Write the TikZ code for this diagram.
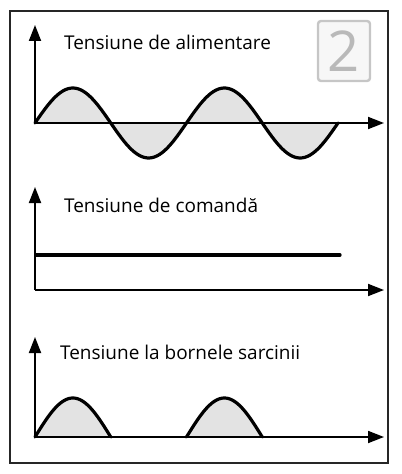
\documentclass[tikz,border=0pt]{standalone}
\usepackage{fontspec}
\setmainfont{Open Sans}
\usetikzlibrary{arrows.meta}

\begin{document}
\begin{tikzpicture}[
  x=0.5mm, y=-0.5mm,
  frm/.style={line width=1.1mm, draw=black!85},
  ax/.style={line width=0.9mm, -{Triangle[length=8mm, width=6mm]}},
  wave/.style={line width=1.6mm, line join=round, line cap=round},
  area/.style={fill=gray!22},
  lbl/.style={anchor=west, font=\fontsize{27}{31}\selectfont, inner sep=0pt},
  nrbox/.style={draw=gray!45, line width=1.2mm, rounded corners=1.5mm, fill=gray!6,
    minimum width=26mm, minimum height=30mm, text=gray!55,
    font=\fontsize{80}{84}\selectfont},
]
\useasboundingbox (0,0) rectangle (401,474);

%% ─── frame and figure number ────────────────────────────────────────────────
\draw[frm] (10,11) rectangle (388,463);
\node[nrbox] (nr) at (344,51) {2};

%% ─── panel 1: supply voltage, y-axis at x=35, t-axis at y=123 ──────────────
\coordinate (o1) at (35,123);
\coordinate (y1) at (35,25);
\coordinate (t1) at (384,123);
\node[lbl] (l1) at (64,42) {Tensiune de alimentare};
\fill[area] plot[domain=35:338, samples=120] (\x, {123-35*sin((\x-35)/151.5*360)}) -- cycle;
\draw[ax] (o1) -- (y1);
\draw[ax] (o1) -- (t1);
\draw[wave] plot[domain=35:338, samples=120] (\x, {123-35*sin((\x-35)/151.5*360)});

%% ─── panel 2: control voltage, t-axis at y=290 ──────────────────────────────
\coordinate (o2) at (35,290);
\coordinate (y2) at (35,187);
\coordinate (t2) at (384,290);
\coordinate (c2a) at (36,255);
\coordinate (c2b) at (340,255);
\node[lbl] (l2) at (64,205) {Tensiune de comandă};
\draw[ax] (o2) -- (y2);
\draw[ax] (o2) -- (t2);
\draw[wave] (c2a) -- (c2b);

%% ─── panel 3: load voltage, t-axis at y=437 ─────────────────────────────────
\coordinate (o3) at (35,437);
\coordinate (y3) at (35,337);
\coordinate (t3) at (384,437);
\node[lbl] (l3) at (60,352) {Tensiune la bornele sarcinii};
\foreach \s in {35,186.5}{
  \fill[area] plot[domain=\s:\s+75.75, samples=50] (\x, {437-39*sin((\x-\s)/151.5*360)}) -- cycle;
}
\draw[ax] (o3) -- (y3);
\draw[ax] (o3) -- (t3);
\foreach \s in {35,186.5}{
  \draw[wave] plot[domain=\s:\s+75.75, samples=50] (\x, {437-39*sin((\x-\s)/151.5*360)});
}

\end{tikzpicture}
\end{document}
